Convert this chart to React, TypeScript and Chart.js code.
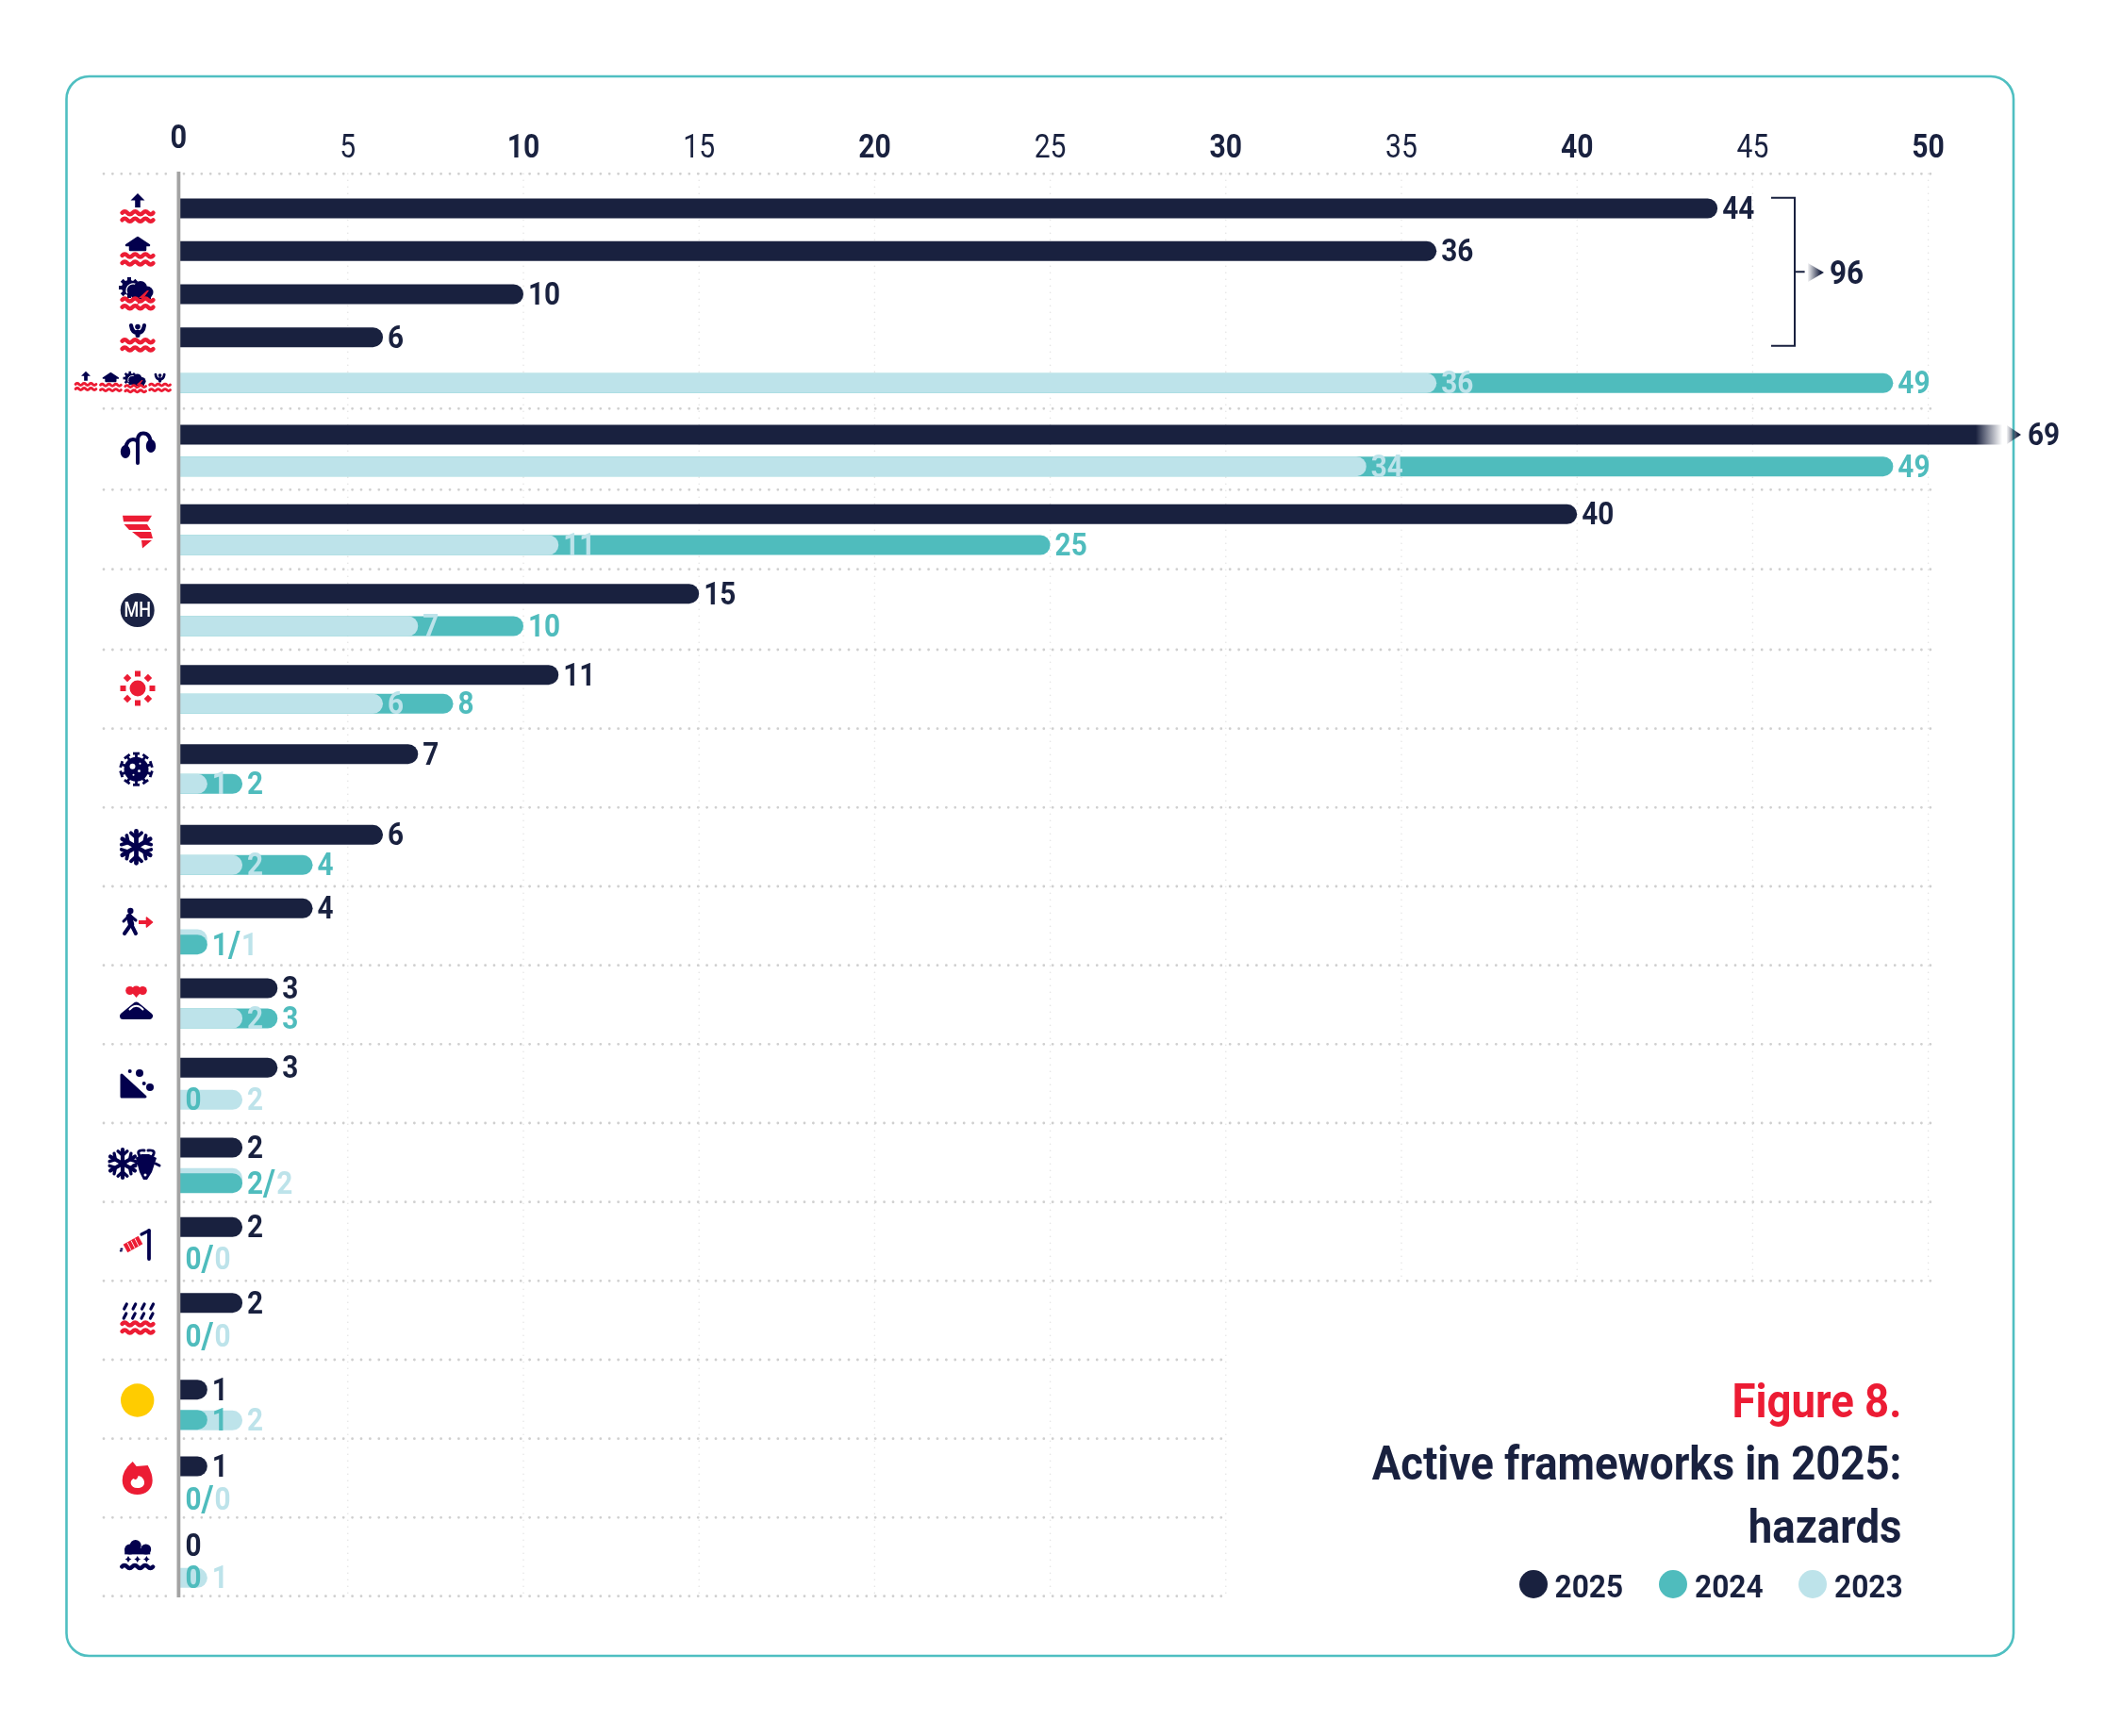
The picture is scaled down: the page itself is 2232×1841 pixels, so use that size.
import React, { useEffect, useRef } from "react";
import { Chart, registerables, CategoryScale } from "chart.js";

// ---------- data ----------
const hazards = [
  "Flood (rising water)", "Flood (homes)", "Storm flood", "Flood (people)", "All floods",
  "Drought", "Cyclone", "Multi-hazard", "Heatwave", "Epidemic", "Cold wave", "Displacement",
  "Volcano", "Landslide", "Dzud", "Explosive remnants", "Heavy rain flood", "Yellow alert",
  "Wildfire", "Snowstorm",
];
const values2025 = [44, 36, 10, 6, null, 69, 40, 15, 11, 7, 6, 4, 3, 3, 2, 2, 2, 1, 1, 0];
const values2024 = [null, null, null, null, 49, 49, 25, 10, 8, 2, 4, 1, 3, 0, 2, 0, 0, 1, 0, 0];
const values2023 = [null, null, null, null, 36, 34, 11, 7, 6, 1, 2, 1, 2, 2, 2, 0, 0, 2, 0, 1];
const years = ["2025", "2024", "2023"];
const axisTicks = { step: 5, lastLabelled: 50 };
const floodTotal = 96;

// ---------- layout & style ----------
const W = 2232, H = 1841;
const NAVY = "#19213f", TEAL = "#4fbcbd", LIGHT = "#bde3ea", RED = "#ec1c34", ICON = "#03004d";
const FONT = "Roboto, sans-serif";
const PLOT = { left: 182.6, right: 2123, top: 184.3, bottom: 1692.7 };
const AXIS_X = 189.4;
const SCALE_MAX = (2123 - 182.6) / 37.24;
// vertical centre of each row's three bars (2025, 2024, 2023)
const slotCentres = [
  [221, 221, 221], [266.3, 266.3, 266.3], [312, 312, 312], [357.7, 357.7, 357.7], [406.3, 406.3, 406.3],
  [461, 494.7, 494.7], [545.3, 578, 578], [629.7, 664, 664], [715.7, 746.3, 746.3], [799.7, 831.3, 831.3],
  [885.3, 917.3, 917.3], [963.3, 1001.7, 996], [1048, 1080, 1080], [1132.3, 1166.3, 1166.3],
  [1217, 1254.7, 1249.3], [1301.3, 1335, 1335], [1381.7, 1417.3, 1417.3], [1473.7, 1505.7, 1506.3],
  [1555, 1590, 1590], [1639.3, 1673.3, 1673.3],
].flat();
const separators = [184.3, 433.3, 519.3, 603.7, 689, 772.7, 856.3, 940, 1023.7, 1107.3, 1191, 1274.7, 1358.3, 1442, 1525.7, 1609.3, 1692.7];

class RowSlotScale extends (CategoryScale as any) {
  static id = "rowSlots";
  static defaults = {};
  getPixelForValue(value: any, index?: number) {
    const i = typeof value === "number" ? value : (this as any).parse(value, index);
    return slotCentres[i];
  }
}
Chart.register(...registerables, RowSlotScale as any);

const slotLabels = hazards.flatMap((h) => years.map((y) => `${h} ${y}`));
const slotData = (vals: (number | null)[], k: number, keep: (i: number) => boolean = () => true) =>
  hazards.flatMap((_, i) => [0, 1, 2].map((s) => (s === k && keep(i) ? vals[i] : null)));

// ---------- icons (origin at icon centre) ----------
type C = CanvasRenderingContext2D;
function waves(c: C, y: number, color = RED, w = 33) {
  c.save();
  c.strokeStyle = color; c.lineWidth = 4.4; c.lineCap = "round";
  c.beginPath();
  const n = 3, s = w / n, x0 = -w / 2;
  c.moveTo(x0, y);
  for (let i = 0; i < n; i++) {
    c.quadraticCurveTo(x0 + s * i + s / 4, y - 3, x0 + s * i + s / 2, y);
    c.quadraticCurveTo(x0 + s * i + (3 * s) / 4, y + 3, x0 + s * i + s, y);
  }
  c.stroke();
  c.restore();
}
function poly(c: C, pts: number[][], color: string) {
  c.fillStyle = color; c.beginPath();
  pts.forEach((p, i) => (i ? c.lineTo(p[0], p[1]) : c.moveTo(p[0], p[1])));
  c.closePath(); c.fill();
}
function disc(c: C, x: number, y: number, r: number, color: string) {
  c.fillStyle = color; c.beginPath(); c.arc(x, y, r, 0, Math.PI * 2); c.fill();
}
function line(c: C, x1: number, y1: number, x2: number, y2: number, w: number, color: string, cap: CanvasLineCap = "round") {
  c.strokeStyle = color; c.lineWidth = w; c.lineCap = cap;
  c.beginPath(); c.moveTo(x1, y1); c.lineTo(x2, y2); c.stroke();
}
const floodArrow = (c: C) => {
  poly(c, [[0, -17], [7.5, -9.5], [2.8, -9.5], [2.8, -2], [-2.8, -2], [-2.8, -9.5], [-7.5, -9.5]], ICON);
  waves(c, 3.7); waves(c, 11.3);
};
const floodHouse = (c: C) => {
  c.save(); c.lineJoin = "round"; c.strokeStyle = ICON; c.lineWidth = 2.5;
  const pts = [[0, -14], [12, -6], [8, -6], [8, -1], [-8, -1], [-8, -6], [-12, -6]];
  poly(c, pts, ICON);
  c.beginPath(); pts.forEach((p, i) => (i ? c.lineTo(p[0], p[1]) : c.moveTo(p[0], p[1]))); c.closePath(); c.stroke();
  c.restore();
  waves(c, 5); waves(c, 13);
};
const floodStorm = (c: C) => {
  disc(c, -9, -6, 8, ICON);
  for (let i = 0; i < 8; i++) {
    c.save(); c.translate(-9, -6); c.rotate((i * Math.PI) / 4); c.fillStyle = ICON; c.fillRect(-2, -11, 4, 5); c.restore();
  }
  c.strokeStyle = "#fff"; c.lineWidth = 1.3; c.beginPath(); c.arc(-5, -3, 7, Math.PI * 0.85, Math.PI * 1.75); c.stroke();
  disc(c, 3, -6, 7, ICON); disc(c, 10, -1, 6.5, ICON); disc(c, -2, 0, 6, ICON);
  poly(c, [[-4, 0], [14, 0], [14, 6], [-4, 6]], ICON);
  waves(c, 7); waves(c, 14.7);
  poly(c, [[10, -3], [1, 5], [5, 5], [-3, 14], [11, 4], [7, 4], [12, -3]], RED);
};
const floodPerson = (c: C) => {
  disc(c, 0, -10.5, 2.8, ICON);
  c.strokeStyle = ICON; c.lineWidth = 4.2; c.lineCap = "round";
  c.beginPath(); c.moveTo(-7, -12); c.quadraticCurveTo(-6, -4, 0, -4); c.quadraticCurveTo(6, -4, 7, -12); c.stroke();
  line(c, 0, -5, 0, -1.5, 5, ICON);
  waves(c, 4.7); waves(c, 13);
};
const allFloods = (c: C) => {
  [[-55, floodArrow], [-28.6, floodHouse], [-2.3, floodStorm], [23.6, floodPerson]].forEach(([dx, f]: any) => {
    c.save(); c.translate(dx, 0); c.scale(0.66, 0.66); f(c); c.restore();
  });
};
const drought = (c: C) => {
  c.strokeStyle = ICON; c.lineWidth = 4; c.lineCap = "round";
  c.beginPath(); c.moveTo(0, 16); c.lineTo(0, -8); c.quadraticCurveTo(0, -15.5, 6, -15.5); c.quadraticCurveTo(13, -15.5, 14, -5); c.stroke();
  c.beginPath(); c.moveTo(0, -5); c.quadraticCurveTo(0, -9, -5, -9); c.quadraticCurveTo(-11, -9, -13, 0); c.stroke();
  c.fillStyle = ICON;
  c.beginPath(); c.ellipse(14, -2, 5.2, 7, 0, 0, Math.PI * 2); c.fill();
  c.beginPath(); c.ellipse(-13, 4, 5.2, 7, 0, 0, Math.PI * 2); c.fill();
};
const cyclone = (c: C) => {
  poly(c, [[-16, -18.3], [15, -18.3], [11, -11.7], [-15, -11.7]], RED);
  poly(c, [[-14.5, -9], [10, -9], [14, -3], [-9, -3]], RED);
  poly(c, [[-6, -1], [14, -1], [16, 6], [3, 6]], RED);
  poly(c, [[4, 8], [15, 8], [5, 16.5]], RED);
};
const multi = (c: C) => {
  disc(c, 0, 0, 18, "#1a2244");
  c.save(); c.scale(0.82, 1);
  c.fillStyle = "#fff"; c.font = `500 22px ${FONT}`; c.textAlign = "center"; c.textBaseline = "middle";
  c.fillText("MH", 0, 1.5);
  c.restore();
};
const sun = (c: C) => {
  disc(c, 0, 0, 8.5, RED);
  for (let i = 0; i < 8; i++) {
    c.save(); c.rotate((i * Math.PI) / 4); c.fillStyle = RED; c.fillRect(-3, -18.5, 6, 6); c.restore();
  }
};
const virus = (c: C) => {
  disc(c, 0, 0, 13, ICON);
  for (let i = 0; i < 10; i++) {
    c.save(); c.rotate((i * Math.PI) / 5);
    line(c, 0, -11, 0, -16, 2.8, ICON, "butt");
    c.fillStyle = ICON; c.fillRect(-3.5, -18, 7, 2.8);
    c.restore();
  }
  disc(c, -4, -3, 3, "#fff"); disc(c, 3, 2, 1.4, "#fff"); disc(c, 4, -6, 1, "#fff"); disc(c, -3, 6, 1, "#fff");
};
const flake = (c: C, r = 17) => {
  for (let i = 0; i < 6; i++) {
    c.save(); c.rotate((i * Math.PI) / 3);
    line(c, 0, 0, 0, -r, r * 0.28, ICON);
    line(c, 0, -r * 0.58, -r * 0.33, -r * 0.88, r * 0.22, ICON);
    line(c, 0, -r * 0.58, r * 0.33, -r * 0.88, r * 0.22, ICON);
    c.restore();
  }
};
const walker = (c: C) => {
  disc(c, -6.7, -11, 3.2, ICON);
  line(c, -8, -5, -6, 3, 6.4, ICON);
  line(c, -6, 3, -13, 13, 4, ICON);
  line(c, -6, 3, -1, 13, 4, ICON);
  line(c, -8, -6, -14, 0, 3, ICON);
  line(c, -7, -6, -1, -1, 3, ICON);
  line(c, 2, 1, 12, 1, 4, RED, "butt");
  c.save(); c.lineJoin = "round"; c.strokeStyle = RED; c.lineWidth = 1.6;
  poly(c, [[10.5, -4], [16.5, 1], [10.5, 6]], RED);
  c.beginPath(); c.moveTo(10.5, -4); c.lineTo(16.5, 1); c.lineTo(10.5, 6); c.closePath(); c.stroke();
  c.restore();
};
const volcano = (c: C) => {
  c.save(); c.lineJoin = "round"; c.strokeStyle = ICON; c.lineWidth = 7;
  poly(c, [[0, 1], [14, 12.5], [-14, 12.5]], ICON);
  c.beginPath(); c.moveTo(0, 1); c.lineTo(14, 12.5); c.lineTo(-14, 12.5); c.closePath(); c.stroke();
  c.restore();
  c.strokeStyle = "#fff"; c.lineWidth = 2; c.lineCap = "round";
  c.beginPath(); c.moveTo(-7, 5.5); c.quadraticCurveTo(0, -2, 7, 5.5); c.stroke();
  disc(c, -6.8, -14.5, 4.5, RED); disc(c, 0, -14.5, 5, RED); disc(c, 6.8, -14.5, 4.5, RED);
  poly(c, [[-4, -12], [4, -12], [0, -7]], RED);
};
const rocks = (c: C) => {
  c.save(); c.lineJoin = "round"; c.strokeStyle = ICON; c.lineWidth = 3;
  poly(c, [[-15, -11], [10, 12], [-15, 12]], ICON);
  c.beginPath(); c.moveTo(-15, -11); c.lineTo(10, 12); c.lineTo(-15, 12); c.closePath(); c.stroke();
  c.restore();
  disc(c, 4, -13, 4, ICON); disc(c, -6.3, -15, 2, ICON); disc(c, 15, 2, 4, ICON); disc(c, 8.7, -2, 2, ICON);
};
const dzud = (c: C) => {
  c.save(); c.translate(-12, -1); flake(c, 15); c.restore();
  poly(c, [[2, -7], [6, 8], [10, 16], [14, 16], [19, 8], [24, -7], [16, -11], [8, -11]], ICON);
  c.strokeStyle = ICON; c.lineWidth = 3; c.lineCap = "round";
  c.beginPath(); c.moveTo(7, -8); c.quadraticCurveTo(1, -16, 11, -15); c.stroke();
  c.beginPath(); c.moveTo(19, -8); c.quadraticCurveTo(25, -16, 15, -15); c.stroke();
  line(c, 3, -1, -1, 1, 3, ICON); line(c, 23, -1, 27, 1, 3, ICON);
  disc(c, 12, 11, 1.5, "#fff");
};
const explosive = (c: C) => {
  line(c, -12, 5, 4, -4, 9.5, RED, "butt");
  c.strokeStyle = "#fff"; c.lineWidth = 0.9;
  for (let i = 1; i < 4; i++) { c.beginPath(); c.moveTo(-12 + i * 4 - 2, 5 - i * 2.2 - 4); c.lineTo(-12 + i * 4 + 2, 5 - i * 2.2 + 4); c.stroke(); }
  for (let i = 0; i < 4; i++) disc(c, -15.5 - i * 0.6, 6.5 + (i % 2) * 2 - 1, 0.9, ICON);
  line(c, 13, -14, 13, 16, 3.8, ICON);
  line(c, 13, -14, 5, -10, 3.2, ICON);
};
const rainFlood = (c: C) => {
  [-15, -5].forEach((y, r) => {
    for (let i = 0; i < 4; i++) {
      const x = -13 + i * 9.4 + (r ? -0.5 : 0);
      line(c, x - 1.3, y + 3, x + 1.3, y - 2, 3.2, ICON);
    }
  });
  waves(c, 4); waves(c, 12);
};
const yellow = (c: C) => disc(c, 0, 0, 17.7, "#ffcc00");
const flame = (c: C) => {
  c.fillStyle = RED; c.beginPath();
  c.moveTo(-5, -18); c.lineTo(-1, -13); c.lineTo(11, -14);
  c.quadraticCurveTo(16, -5, 16, 2);
  c.bezierCurveTo(16, 11, 9, 17, 0, 17);
  c.bezierCurveTo(-9, 17, -16, 11, -16, 2);
  c.quadraticCurveTo(-16, -9, -5, -18);
  c.closePath(); c.fill();
  c.fillStyle = "#fff"; c.beginPath();
  c.moveTo(1, -3); c.lineTo(4, -2);
  c.bezierCurveTo(9, 2, 9, 10, 0, 10);
  c.bezierCurveTo(-8, 10, -9, 2, -4, 0);
  c.quadraticCurveTo(-1, 3, 1, -3);
  c.closePath(); c.fill();
};
const snowCloud = (c: C) => {
  disc(c, -8, -12, 5.5, ICON); disc(c, -2, -16, 6, ICON); disc(c, 9, -12, 5.5, ICON);
  c.fillStyle = ICON; c.fillRect(-13.5, -13, 27, 6.4);
  [-9.7, 0, 9.7].forEach((x) => poly(c, [[x, -5], [x + 1.4, -2.4], [x + 3.4, -1.4], [x + 1.4, -0.4], [x, 2], [x - 1.4, -0.4], [x - 3.4, -1.4], [x - 1.4, -2.4]], ICON));
  waves(c, 6.5, ICON);
};
const icons: [(c: C) => void, number, number][] = [
  [floodArrow, 146, 222], [floodHouse, 146, 266], [floodStorm, 146, 311], [floodPerson, 146, 357],
  [allFloods, 146, 405], [drought, 146, 475], [cyclone, 146, 565], [multi, 145.7, 647], [sun, 146, 730],
  [virus, 144.5, 815.7], [flake, 144.5, 898.3], [walker, 145, 977], [volcano, 144.5, 1065], [rocks, 144, 1151],
  [dzud, 142, 1235], [explosive, 145, 1319], [rainFlood, 146, 1400], [yellow, 145.7, 1485], [flame, 145.7, 1568], [snowCloud, 145.7, 1655],
];

// ---------- plugin ----------
// the reference face is condensed: Roboto is narrowed horizontally to fit
const text = (c: C, s: string, x: number, y: number, size: number, color: string, weight = "bold", align: CanvasTextAlign = "left", base: CanvasTextBaseline = "middle", sx = 0.9) => {
  c.save();
  c.font = `${weight} ${size}px ${FONT}`; c.fillStyle = color; c.textAlign = align; c.textBaseline = base;
  c.translate(x, base === "middle" ? y + size * 0.08 : y);
  c.scale(sx, 1);
  c.fillText(s, 0, 0);
  const w = c.measureText(s).width * sx;
  c.restore();
  return w;
};
const arrowHead = (c: C, x1: number, x2: number, y: number, hh: number) => {
  const g = c.createLinearGradient(x1, 0, x2, 0);
  g.addColorStop(0, "rgba(25,33,63,0.05)"); g.addColorStop(0.8, NAVY);
  c.fillStyle = g; c.beginPath(); c.moveTo(x1, y - hh); c.lineTo(x2, y); c.lineTo(x1, y + hh); c.closePath(); c.fill();
};

const decor = {
  id: "decor",
  beforeDraw(chart: any) {
    const c: C = chart.ctx;
    c.save();
    c.fillStyle = "#fff"; c.fillRect(0, 0, W, H);
    c.strokeStyle = "#4fbfc1"; c.lineWidth = 2.6;
    c.beginPath(); c.roundRect(70.5, 81, 2064.5, 1675, 24); c.stroke();
    c.restore();
  },
  beforeDatasetsDraw(chart: any) {
    const c: C = chart.ctx, x = chart.scales.x;
    c.save();
    c.lineCap = "round";
    // vertical dotted grid
    c.setLineDash([0, 7]); c.lineWidth = 1.6; c.strokeStyle = "#e3e3e3";
    x.ticks.forEach((t: any) => {
      if (t.value === 0) return;
      const px = x.getPixelForValue(t.value), end = t.value > 30 ? separators[12] : separators[16];
      c.beginPath(); c.moveTo(px, separators[0]); c.lineTo(px, end); c.stroke();
    });
    // row separators
    c.setLineDash([0, 9.4]); c.lineWidth = 2.8; c.strokeStyle = "#cfcfcf";
    separators.forEach((y, i) => {
      const xEnd = x.getPixelForValue(i >= 13 ? 30 : axisTicks.lastLabelled) + 4;
      c.beginPath(); c.moveTo(110, y); c.lineTo(178, y); c.stroke();
      c.beginPath(); c.moveTo(195, y); c.lineTo(xEnd, y); c.stroke();
    });
    c.restore();
  },
  afterDatasetsDraw(chart: any) {
    const c: C = chart.ctx, x = chart.scales.x, y = chart.scales.y;
    c.save();
    // axis line
    c.fillStyle = "#a3a3a3"; c.fillRect(AXIS_X - 1.9, 182, 3.8, 1512);

    // tick labels (the condensed look needs a horizontal squeeze)
    x.ticks.forEach((t: any) => {
      const bold = t.value % 10 === 0;
      if (t.value === 0) text(c, "0", AXIS_X, 145, 35, NAVY, "bold", "center", "middle", 0.88);
      else text(c, String(t.value), x.getPixelForValue(t.value), 155.7, 35, NAVY, bold ? "bold" : "normal", "center", "middle", 0.86);
    });

    // value labels
    const SIZE = 33, GAP = 5;
    const end = (v: number) => Math.max(x.getPixelForValue(v), AXIS_X + 2);
    hazards.forEach((_, i) => {
      const a = values2025[i], b = values2024[i], d = values2023[i];
      if (a !== null && a <= SCALE_MAX) text(c, String(a), end(a) + GAP, y.getPixelForValue(3 * i), SIZE, NAVY);
      if (b === null || d === null) return;
      const yb = y.getPixelForValue(3 * i + 1), yd = y.getPixelForValue(3 * i + 2);
      if (b === d) {
        let px = end(b) + GAP;
        px += text(c, String(b), px, yb, SIZE, TEAL);
        px += text(c, "/", px, yb, SIZE + 6, TEAL) + 1;
        text(c, String(d), px, yb, SIZE, LIGHT);
      } else {
        text(c, String(b), end(b) + GAP, yb, SIZE, TEAL);
        text(c, String(d), end(d) + GAP, yd, SIZE, LIGHT);
      }
    });

    // overflowing bar
    const over = values2025.find((v) => v !== null && v > SCALE_MAX) as number;
    const oi = values2025.indexOf(over), oy = y.getPixelForValue(3 * oi);
    arrowHead(c, 2128, 2143, oy, 10);
    text(c, String(over), 2150, oy, SIZE, NAVY);

    // bracket around the flood rows
    c.strokeStyle = NAVY; c.lineWidth = 2; c.lineCap = "butt";
    c.beginPath(); c.moveTo(1878, 209.7); c.lineTo(1903, 209.7); c.lineTo(1903, 366.7); c.lineTo(1878, 366.7);
    c.moveTo(1903, 288.3); c.lineTo(1913.6, 288.3); c.stroke();
    arrowHead(c, 1917, 1934, 289, 10);
    text(c, String(floodTotal), 1940, 289, 35, NAVY);

    // icons
    icons.forEach(([f, ix, iy]) => { c.save(); c.translate(ix, iy); f(c); c.restore(); });

    // title block
    const TR = 2016.4;
    text(c, "Figure 8.", TR, 1503, 50, RED, "bold", "right", "alphabetic", 0.91);
    text(c, "Active frameworks in 2025:", TR, 1569, 50, NAVY, "bold", "right", "alphabetic", 0.91);
    text(c, "hazards", TR, 1635.7, 50, NAVY, "bold", "right", "alphabetic", 0.91);

    // legend
    const legendX = [[1626, 1648.5], [1774, 1797], [1922, 1945]];
    [NAVY, TEAL, LIGHT].forEach((col, i) => {
      disc(c, legendX[i][0], 1680, 15, col);
      text(c, years[i], legendX[i][1], 1694, 34, NAVY, "bold", "left", "alphabetic", 0.93);
    });
    c.restore();
  },
};

const baseBar = {
  barThickness: 21,
  skipNull: true,
  borderRadius: { topRight: 10.5, bottomRight: 10.5, topLeft: 0, bottomLeft: 0 },
  borderSkipped: false as any,
  inflateAmount: 0,
  clip: { left: PLOT.left - AXIS_X, top: false, right: 0, bottom: false } as any,
};
// the bar that runs off the axis fades out before the arrow
const navyFill = (ctx: any) => {
  if (ctx.raw > SCALE_MAX && ctx.chart.chartArea) {
    const r = ctx.chart.chartArea.right;
    const g = ctx.chart.ctx.createLinearGradient(r - 28, 0, r, 0);
    g.addColorStop(0, NAVY); g.addColorStop(1, "rgba(25,33,63,0)");
    return g;
  }
  return NAVY;
};

export default function App() {
  const ref = useRef<HTMLCanvasElement | null>(null);
  useEffect(() => {
    const chart = new Chart(ref.current as any, {
      type: "bar",
      plugins: [decor],
      data: {
        labels: slotLabels,
        datasets: [
          { label: "2025", data: slotData(values2025, 0), backgroundColor: navyFill, ...baseBar },
          { label: "2024", data: slotData(values2024, 1, (i) => (values2024[i] as number) <= (values2023[i] as number)), backgroundColor: TEAL, ...baseBar },
          { label: "2023", data: slotData(values2023, 2), backgroundColor: LIGHT, ...baseBar },
          { label: "2024 ", data: slotData(values2024, 1, (i) => (values2024[i] as number) > (values2023[i] as number)), backgroundColor: TEAL, ...baseBar },
        ] as any,
      },
      options: {
        indexAxis: "y",
        responsive: false,
        animation: false,
        devicePixelRatio: 1,
        layout: { padding: { left: PLOT.left, right: W - PLOT.right, top: 100, bottom: H - PLOT.bottom } },
        plugins: { legend: { display: false }, tooltip: { enabled: false }, title: { display: false } },
        scales: {
          y: { type: "rowSlots" as any, display: false },
          x: {
            position: "top",
            min: 0,
            max: SCALE_MAX,
            grid: { display: false, drawTicks: false },
            border: { display: false },
            afterFit: (s: any) => { s.height = PLOT.top - 100; },
            afterBuildTicks: (s: any) => { s.ticks = s.ticks.filter((t: any) => t.value <= axisTicks.lastLabelled); },
            ticks: {
              stepSize: axisTicks.step,
              includeBounds: false,
              autoSkip: false,
              maxRotation: 0,
              minRotation: 0,
              display: false,
            },
          },
        },
      } as any,
    });
    return () => chart.destroy();
  }, []);
  return (
    <div style={{ position: "absolute", left: 0, top: 0, width: W, height: H }}>
      <canvas ref={ref} width={W} height={H} style={{ display: "block", width: W, height: H }} />
    </div>
  );
}
